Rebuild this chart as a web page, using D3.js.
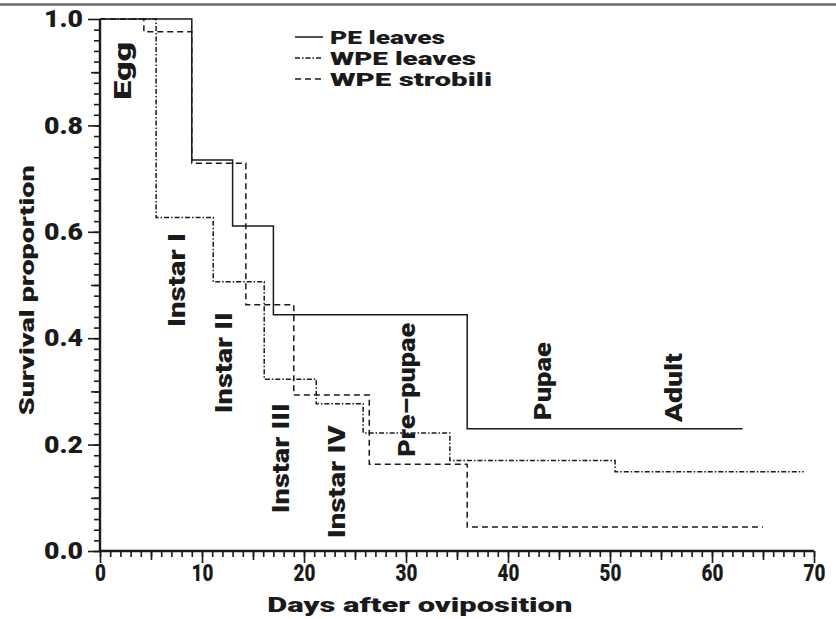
<!DOCTYPE html>
<html>
<head>
<meta charset="utf-8">
<script src="https://cdn.jsdelivr.net/npm/d3@7"></script>
<style>
  body { margin: 0; background: #fff; }
  svg { display: block; }
  text { font-family: Roboto, "Liberation Sans", Arial, sans-serif; font-weight: 900; fill: #1a1a1a; }
</style>
</head>
<body>
<div id="chart"></div>
<script>
// step survival curves, days after oviposition
const peDays = [0, 9, 13, 17, 36, 63];
const peSurv = [1.0, 0.735, 0.611, 0.444, 0.23, 0.23];

const wpeLeavesDays = [0, 5.5, 11.1, 16.1, 21.2, 25.8, 34.3, 50.5, 69];
const wpeLeavesSurv = [1.0, 0.627, 0.506, 0.323, 0.277, 0.222, 0.170, 0.149, 0.149];

const wpeStrobiliDays = [0, 4.3, 9, 14.3, 19, 26.4, 36, 65];
const wpeStrobiliSurv = [1.0, 0.976, 0.729, 0.463, 0.293, 0.163, 0.045, 0.045];

const seriesNames = ["PE leaves", "WPE leaves", "WPE strobili"];
const legendLen = [115, 146, 162];

// development stage labels (anchored in data units)
const stageNames = ["Egg", "Instar I", "Instar II", "Instar III", "Instar IV", "Pre\u2013pupae", "Pupae", "Adult"];
const stageX = [2.25, 7.55, 12.16, 17.75, 23.2, 30.1, 43.4, 56.3];
const stageY = [0.848, 0.421, 0.259, 0.071, 0.024, 0.177, 0.246, 0.242];
const stageLen = [58, 94, 101, 110, 113, 134, 78, 69];

const xTicks = [0, 10, 20, 30, 40, 50, 60, 70];
const yTicks = [0, 0.2, 0.4, 0.6, 0.8, 1.0];

const W = 836, H = 619;
const margin = {top: 19, right: 22, bottom: 68, left: 100};
const width = W - margin.left - margin.right;
const height = H - margin.top - margin.bottom;

const root = d3.select("#chart").append("svg")
  .attr("width", W)
  .attr("height", H);

// grey rule across the top of the figure
root.append("line")
  .attr("x1", 0).attr("x2", W)
  .attr("y1", 4.5).attr("y2", 4.5)
  .attr("stroke", "#6a6a6a")
  .attr("stroke-width", 2.5);

const svg = root.append("g")
  .attr("transform", `translate(${margin.left},${margin.top})`);

const x = d3.scaleLinear().domain([0, 70]).range([0, width]);
const y = d3.scaleLinear().domain([0, 1]).range([height, 0]);

// x axis: minor every day, medium every 5, major every 10
function xAxisLayer(values, size, labels) {
  const g = svg.append("g")
    .attr("transform", `translate(0,${height})`)
    .call(d3.axisBottom(x).tickValues(values).tickSize(size).tickSizeOuter(0)
      .tickFormat(labels ? d3.format("d") : ""));
  g.select(".domain").remove();
  g.selectAll(".tick line").attr("stroke", "#1a1a1a").attr("stroke-width", 1.6);
  return g;
}
xAxisLayer(d3.range(0, 71, 1), 6, false);
xAxisLayer(d3.range(5, 71, 10), 9, false);
const xMajor = xAxisLayer(xTicks, 12, true);
xMajor.selectAll(".tick text")
  .attr("y", 14)
  .attr("dy", "0.71em")
  .attr("transform", "scale(0.82,1)")
  .style("font-size", "23px")
  .style("fill", "#1a1a1a");

function yAxisLayer(values, size, labels) {
  const g = svg.append("g")
    .call(d3.axisLeft(y).tickValues(values).tickSize(size).tickSizeOuter(0)
      .tickFormat(labels ? d3.format(".1f") : ""));
  g.select(".domain").remove();
  g.selectAll(".tick line").attr("stroke", "#1a1a1a").attr("stroke-width", 1.6);
  return g;
}
yAxisLayer(d3.range(0, 50).map(i => i * 0.02), 6, false);
yAxisLayer([0.1, 0.3, 0.5, 0.7, 0.9], 9, false);
const yMajor = yAxisLayer(yTicks, 12, true);
yMajor.selectAll(".tick text")
  .attr("x", -17)
  .attr("textLength", 39)
  .attr("lengthAdjust", "spacingAndGlyphs")
  .style("font-size", "24px")
  .style("fill", "#1a1a1a");

// axis lines
svg.append("line")
  .attr("x1", 0).attr("x2", width)
  .attr("y1", height).attr("y2", height)
  .attr("stroke", "#1a1a1a").attr("stroke-width", 2.4);
svg.append("line")
  .attr("x1", 0).attr("x2", 0)
  .attr("y1", 0).attr("y2", height)
  .attr("stroke", "#1a1a1a").attr("stroke-width", 2.4);

// axis titles
svg.append("text")
  .attr("x", width * 0.448)
  .attr("y", height + 61)
  .attr("text-anchor", "middle")
  .attr("textLength", 305)
  .attr("lengthAdjust", "spacingAndGlyphs")
  .style("font-size", "21px")
  .text("Days after oviposition");

svg.append("text")
  .attr("transform", "rotate(-90)")
  .attr("x", -(height * 0.51))
  .attr("y", -66)
  .attr("text-anchor", "middle")
  .attr("textLength", 250)
  .attr("lengthAdjust", "spacingAndGlyphs")
  .style("font-size", "20px")
  .text("Survival proportion");

// curves
const series = [
  {name: seriesNames[0], days: peDays, surv: peSurv, dash: null},
  {name: seriesNames[1], days: wpeLeavesDays, surv: wpeLeavesSurv, dash: "5,2,1.5,2"},
  {name: seriesNames[2], days: wpeStrobiliDays, surv: wpeStrobiliSurv, dash: "6,4"}
];

const line = d3.line()
  .x(d => x(d[0]))
  .y(d => y(d[1]))
  .curve(d3.curveStepAfter);

series.forEach(s => {
  svg.append("path")
    .datum(s.days.map((d, i) => [d, s.surv[i]]))
    .attr("d", line)
    .attr("fill", "none")
    .attr("stroke", "#1a1a1a")
    .attr("stroke-width", 1.5)
    .attr("stroke-dasharray", s.dash);
});

// stage labels, reading bottom to top
stageNames.forEach((name, i) => {
  svg.append("text")
    .attr("transform", `translate(${x(stageX[i]) + 8},${y(stageY[i])}) rotate(-90)`)
    .attr("textLength", stageLen[i])
    .attr("lengthAdjust", "spacingAndGlyphs")
    .style("font-size", "23px")
    .text(name);
});

// legend
const legend = svg.append("g")
  .attr("transform", "translate(195, 18)");

series.forEach((s, i) => {
  const row = legend.append("g").attr("transform", `translate(0, ${i * 21})`);
  row.append("line")
    .attr("x1", 0).attr("x2", 28)
    .attr("y1", 0).attr("y2", 0)
    .attr("stroke", "#1a1a1a")
    .attr("stroke-width", 1.5)
    .attr("stroke-dasharray", s.dash);
  row.append("text")
    .attr("x", 35)
    .attr("y", 6.5)
    .attr("textLength", legendLen[i])
    .attr("lengthAdjust", "spacingAndGlyphs")
    .style("font-size", "17.5px")
    .text(s.name);
});
</script>
</body>
</html>
